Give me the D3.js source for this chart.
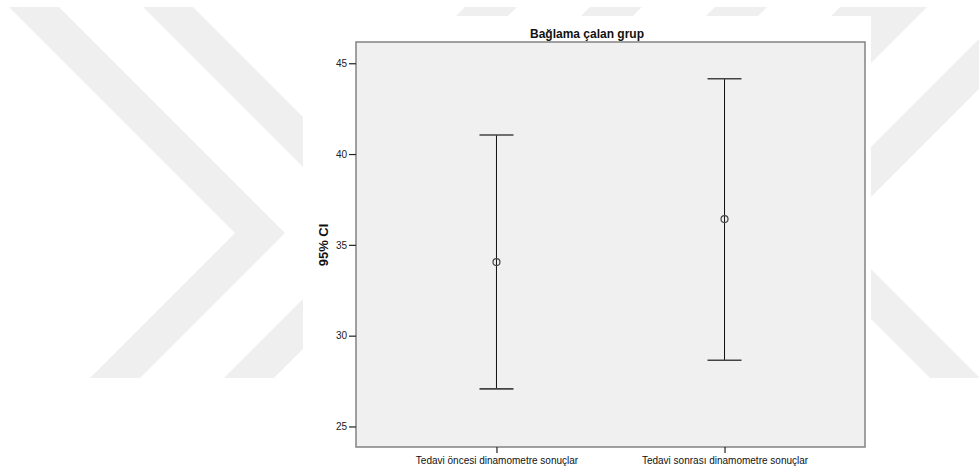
<!DOCTYPE html>
<html>
<head>
<meta charset="utf-8">
<script src="https://cdn.jsdelivr.net/npm/d3@7"></script>
<style>
  html, body { margin: 0; padding: 0; background: #ffffff; }
  svg { display: block; font-family: "Liberation Sans", Arial, sans-serif; }
</style>
</head>
<body>
<svg id="chart" width="979" height="471"></svg>
<script>
// ---- data ----
const title = "Bağlama çalan grup";
const yLabel = "95% CI";
const categories = ["Tedavi öncesi dinamometre sonuçlar", "Tedavi sonrası dinamometre sonuçlar"];
const means = [34.05, 36.42];
const lowerCI = [27.07, 28.65];
const upperCI = [41.05, 44.15];
const yTicks = [25, 30, 35, 40, 45];

// ---- layout ----
const svg = d3.select("#chart");
const frame = { left: 356, right: 865, top: 42, bottom: 447 };

// faint background watermark (decoration)
const wm = svg.append("g").attr("fill", "#efefef");
function leftChevron(vx) {
  return [[vx - 226, 7], [vx - 176, 7], [vx + 50, 233], [vx - 95, 378], [vx - 145, 378], [vx, 233]];
}
function mirror(pts) { return pts.map(p => [1070 - p[0], p[1]]); }
[235, 369].forEach(vx => {
  wm.append("polygon").attr("points", leftChevron(vx).join(" "));
  wm.append("polygon").attr("points", mirror(leftChevron(vx)).join(" "));
});
[465, 590, 715, 840].forEach(x0 => {
  wm.append("polygon").attr("points", [[x0, 7], [x0 + 52, 7], [x0 + 52 - 40, 47], [x0 - 40, 47]].join(" "));
});
svg.append("rect").attr("x", 303).attr("y", 16).attr("width", 568).attr("height", 455).attr("fill", "#ffffff");

// scales
const y = d3.scaleLinear().domain([23.87, 46.17]).range([frame.bottom, frame.top]);
const x = d3.scalePoint().domain(categories).range([frame.left, frame.right]).padding(0.616);

// panel
svg.append("rect")
  .attr("x", frame.left).attr("y", frame.top)
  .attr("width", frame.right - frame.left).attr("height", frame.bottom - frame.top)
  .attr("fill", "#f0f0f0").attr("stroke", "#8a8a8a").attr("stroke-width", 1.6);

// y axis
const yAxis = d3.axisLeft(y).tickValues(yTicks).tickSize(7).tickPadding(2).tickFormat(d3.format("d"));
const gy = svg.append("g").attr("transform", `translate(${frame.left},0)`).call(yAxis);
gy.select(".domain").remove();
gy.selectAll(".tick line").attr("stroke", "#222").attr("stroke-width", 1.2);
gy.selectAll(".tick text").attr("fill", "#222").style("font-size", "10px");

// x axis
const xAxis = d3.axisBottom(x).tickSize(6).tickPadding(4);
const gx = svg.append("g").attr("transform", `translate(0,${frame.bottom})`).call(xAxis);
gx.select(".domain").remove();
gx.selectAll(".tick line").attr("stroke", "#222").attr("stroke-width", 1.2);
gx.selectAll(".tick text").attr("fill", "#111").style("font-size", "10px");

// error bars
const rows = categories.map((c, i) => ({ c, m: means[i], lo: lowerCI[i], hi: upperCI[i] }));
const bars = svg.append("g").selectAll("g").data(rows).join("g");
bars.append("line")
  .attr("x1", d => x(d.c)).attr("x2", d => x(d.c))
  .attr("y1", d => y(d.hi)).attr("y2", d => y(d.lo))
  .attr("stroke", "#111").attr("stroke-width", 1);
bars.selectAll("line.cap").data(d => [[d.c, d.hi], [d.c, d.lo]]).join("line")
  .attr("class", "cap")
  .attr("x1", d => x(d[0]) - 17).attr("x2", d => x(d[0]) + 17)
  .attr("y1", d => y(d[1])).attr("y2", d => y(d[1]))
  .attr("stroke", "#444").attr("stroke-width", 1.6);
bars.append("circle")
  .attr("cx", d => x(d.c)).attr("cy", d => y(d.m)).attr("r", 3.5)
  .attr("fill", "none").attr("stroke", "#444").attr("stroke-width", 1.2);

// title
svg.append("text").attr("x", 587).attr("y", 38).attr("text-anchor", "middle")
  .style("font-size", "12px").style("font-weight", "bold").attr("fill", "#111").text(title);

// y label
svg.append("text").attr("transform", "translate(328,245) rotate(-90)").attr("text-anchor", "middle")
  .style("font-size", "13px").style("font-weight", "bold").attr("fill", "#111").text(yLabel);
</script>
</body>
</html>
